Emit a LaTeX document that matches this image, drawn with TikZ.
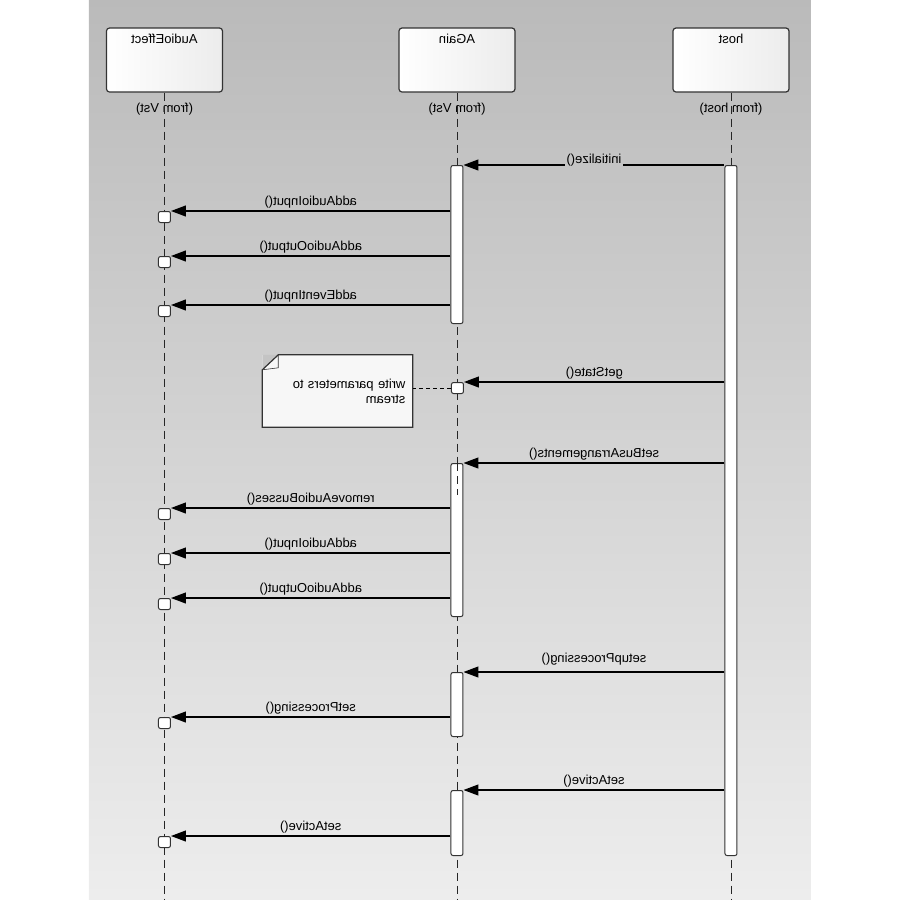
\documentclass[tikz,border=0pt]{standalone}
\usepackage{fontspec}
\setmainfont{Liberation Sans}
\usetikzlibrary{arrows.meta,positioning}
\definecolor{bgtop}{gray}{0.73}
\definecolor{bgbot}{gray}{0.93}
\definecolor{bggap}{gray}{0.77}
\definecolor{edge}{gray}{0.2}

\begin{document}
\begin{tikzpicture}[x=1pt, y=-1pt, xscale=-1, every node/.append style={transform shape},
        font=\fontsize{13}{15}\selectfont]
        % Define block styles
        \tikzstyle{headbox} = [rectangle, draw=edge, line width=1.2pt, rounded corners=3pt,
            left color=white, right color=gray!15, minimum width=116pt, minimum height=64pt]
        \tikzstyle{headlbl} = [inner sep=1pt]
        \tikzstyle{fromlbl} = [inner sep=1pt]
        \tikzstyle{life} = [draw=black!85, line width=0.9pt, dash pattern=on 8pt off 5pt]
        \tikzstyle{actbar} = [rectangle, draw=edge, line width=1pt, fill=white,
            rounded corners=2pt, minimum width=12pt, inner sep=0pt, anchor=north]
        \tikzstyle{stub} = [actbar, minimum height=11pt]
        \tikzstyle{note} = [text width=136pt, align=left, inner sep=7pt, minimum height=72pt,
            fill=gray!6]
        \tikzstyle{msg} = [draw, line width=1.2pt, -{Triangle[length=15pt, width=11pt]}]
        \tikzstyle{lbl} = [above, midway, inner sep=2pt]

        \useasboundingbox (0,0) rectangle (900,900);
        \fill[top color=bgtop, bottom color=bgbot] (89,0) rectangle (811,900);

        % Nodes
        \node [headbox] (host) at (169,60) {};
        \node [headbox] (again) at (443,60) {};
        \node [headbox] (effect) at (735.5,60) {};
        \node [headlbl, below=5pt of host.north] {host};
        \node [headlbl, below=5pt of again.north] {AGain};
        \node [headlbl, below=5pt of effect.north] {AudioEffect};
        \node [fromlbl, below=9pt of host.south] {(from host)};
        \node [fromlbl, below=9pt of again.south] {(from Vst)};
        \node [fromlbl, below=9pt of effect.south] {(from Vst)};

        \coordinate (bottom) at (0,900);
        \foreach \who in {host,again,effect}
            \path [life] (\who.south) -- (\who.south |- bottom);

        \node [actbar, minimum height=690pt] (hbar) at (169,165) {};
        \node [actbar, minimum height=158pt] (abar1) at (443,165) {};
        \node [stub] (get) at (442.5,382) {};
        \node [actbar, minimum height=153pt] (abar2) at (443,463) {};
        \node [actbar, minimum height=64pt] (abar3) at (443,672) {};
        \node [actbar, minimum height=65pt] (abar4) at (443,790) {};
        \path [life] (abar2.north) -- ++(0,32);
        \foreach \y [count=\i] in {211,256,305,508,553,598,717,836}
            \node [stub] (s\i) at (735.5,\y) {};

        \node [note] (memo) at (562.5,391) {write parameters to\\stream};
        \fill [bggap] (memo.north east) -- ([xshift=-16pt]memo.north east)
            -- ([yshift=-15pt]memo.north east) -- cycle;
        \draw [edge, line width=1.2pt] ([xshift=-16pt]memo.north east) -- ([yshift=-15pt]memo.north east)
            -- (memo.south east) -- (memo.south west) -- (memo.north west) -- cycle;
        \draw [edge, line width=0.6pt] ([xshift=-16pt]memo.north east) -- ++(0,13)
            -- ([yshift=-15pt]memo.north east);

        % Arrows
        \path [msg] (hbar.east |- abar1.north) -- node[midway, fill=bggap, inner sep=2pt, yshift=5pt] {initialize()} (abar1.north west);
        \path [msg] (abar1.east |- s1.north) -- node[lbl] {addAudioInput()} (s1.north west);
        \path [msg] (abar1.east |- s2.north) -- node[lbl] {addAudioOutput()} (s2.north west);
        \path [msg] (abar1.east |- s3.north) -- node[lbl] {addEventInput()} (s3.north west);
        \path [msg] (hbar.east |- get.north) -- node[lbl] {getState()} (get.north west);
        \path [draw, line width=1pt, dash pattern=on 4pt off 3pt] (get.east) -- (get.east -| memo.west);
        \path [msg] (hbar.east |- abar2.north) -- node[lbl] {setBusArrangements()} (abar2.north west);
        \path [msg] (abar2.east |- s4.north) -- node[lbl] {removeAudioBusses()} (s4.north west);
        \path [msg] (abar2.east |- s5.north) -- node[lbl] {addAudioInput()} (s5.north west);
        \path [msg] (abar2.east |- s6.north) -- node[lbl] {addAudioOutput()} (s6.north west);
        \path [msg] (hbar.east |- abar3.north) -- node[lbl, yshift=4pt] {setupProcessing()} (abar3.north west);
        \path [msg] (abar3.east |- s7.north) -- node[lbl] {setProcessing()} (s7.north west);
        \path [msg] (hbar.east |- abar4.north) -- node[lbl] {setActive()} (abar4.north west);
        \path [msg] (abar4.east |- s8.north) -- node[lbl] {setActive()} (s8.north west);
    \end{tikzpicture}
\end{document}
